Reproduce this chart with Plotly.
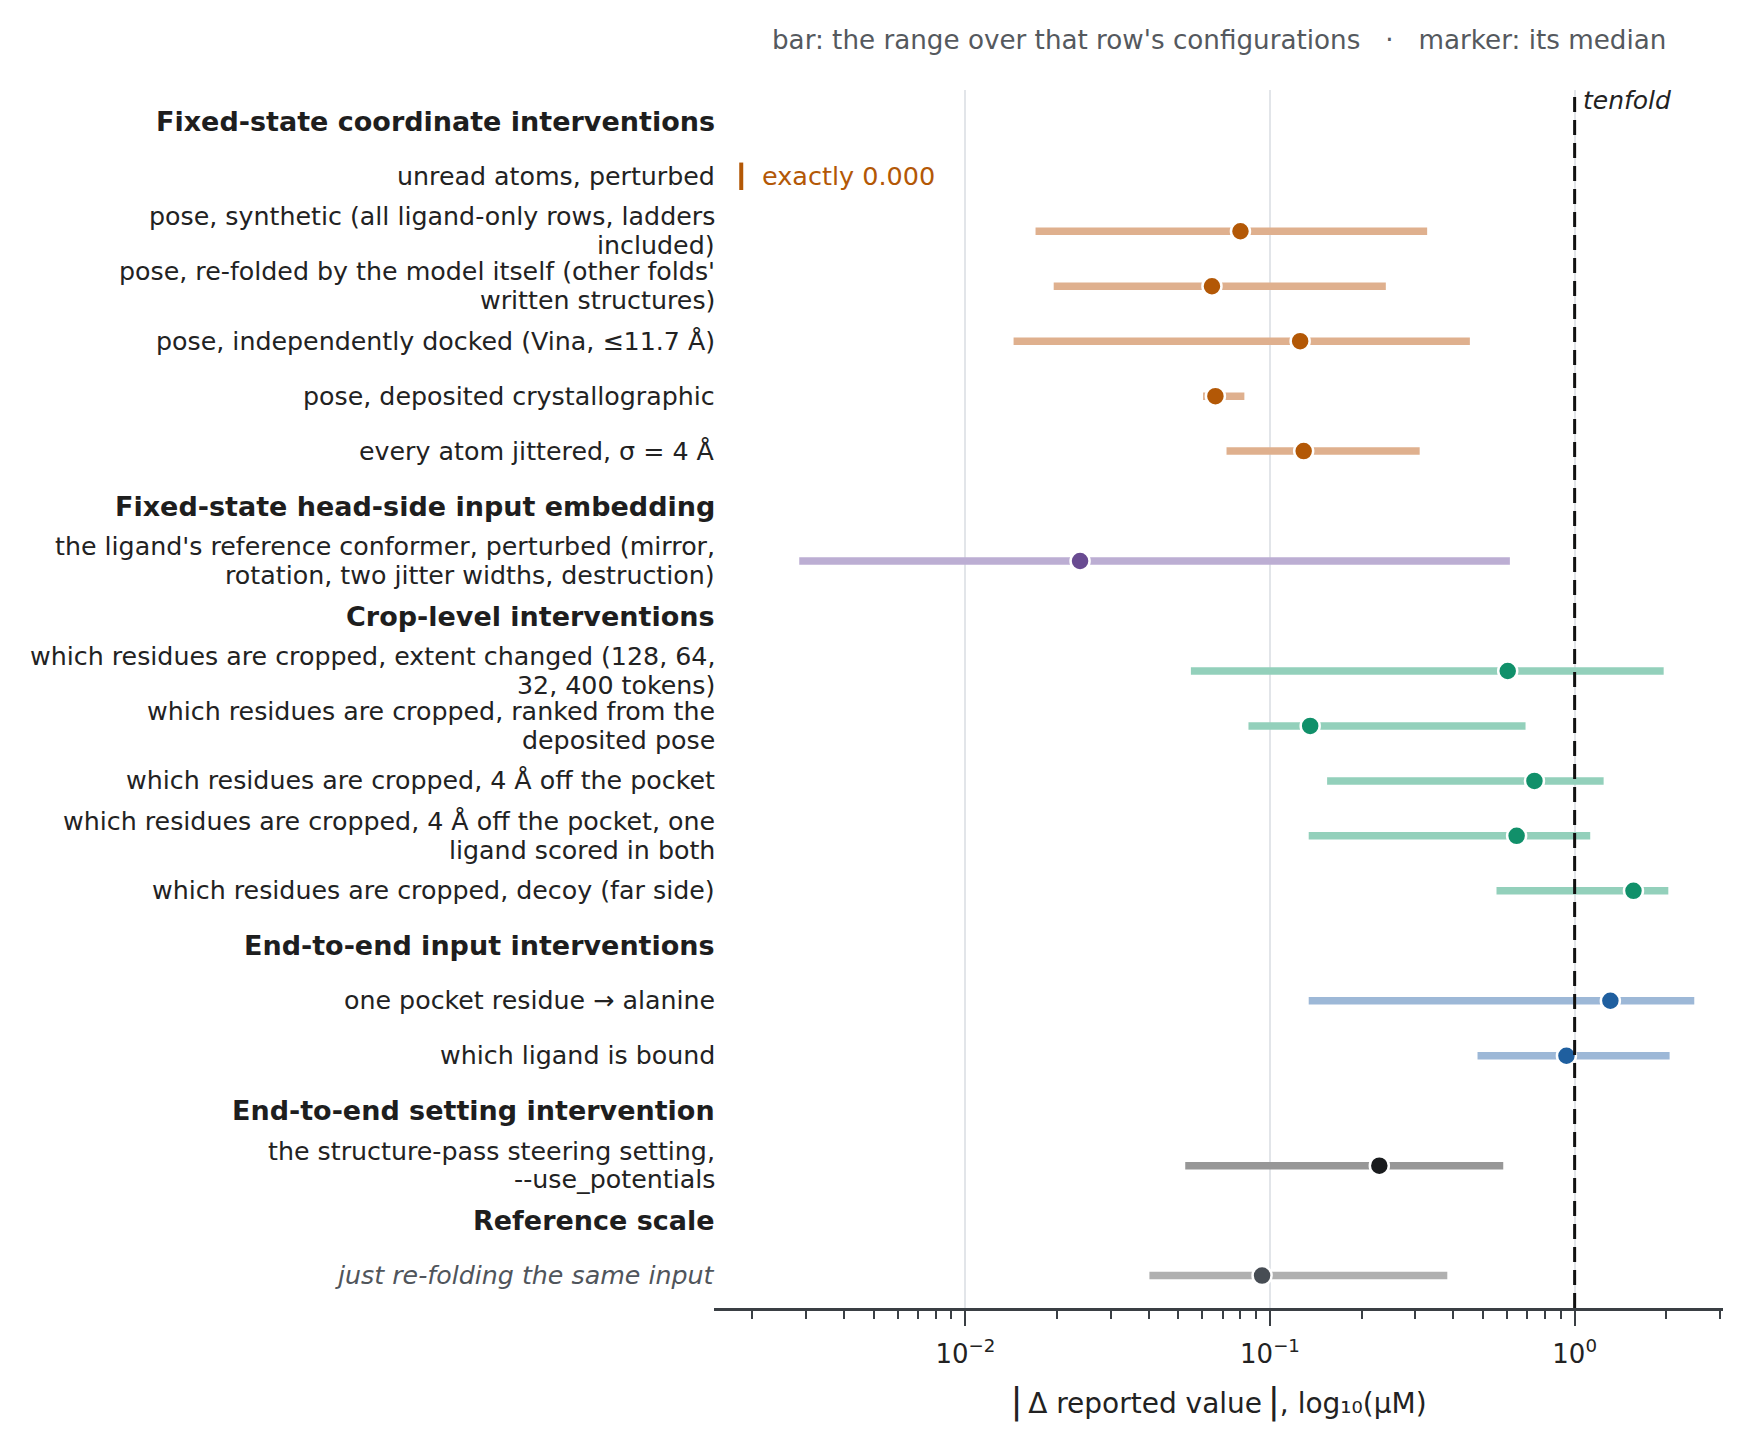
import plotly.graph_objects as go

# rows, top to bottom (headers included, they get no mark)
row_labels = [
    "Fixed-state coordinate interventions",
    "unread atoms, perturbed",
    "pose, synthetic (all ligand-only rows, ladders<br>included)",
    "pose, re-folded by the model itself (other folds'<br>written structures)",
    "pose, independently docked (Vina, ≤11.7 Å)",
    "pose, deposited crystallographic",
    "every atom jittered, σ = 4 Å",
    "Fixed-state head-side input embedding",
    "the ligand's reference conformer, perturbed (mirror,<br>rotation, two jitter widths, destruction)",
    "Crop-level interventions",
    "which residues are cropped, extent changed (128, 64,<br>32, 400 tokens)",
    "which residues are cropped, ranked from the<br>deposited pose",
    "which residues are cropped, 4 Å off the pocket",
    "which residues are cropped, 4 Å off the pocket, one<br>ligand scored in both",
    "which residues are cropped, decoy (far side)",
    "End-to-end input interventions",
    "one pocket residue → alanine",
    "which ligand is bound",
    "End-to-end setting intervention",
    "the structure-pass steering setting,<br>--use_potentials",
    "Reference scale",
    "just re-folding the same input",
]
row_group = ["header", "coord", "coord", "coord", "coord", "coord", "coord",
             "header", "embed",
             "header", "crop", "crop", "crop", "crop", "crop",
             "header", "e2e", "e2e",
             "header", "setting",
             "header", "ref"]
range_low = [None, None, 0.0170, 0.0195, 0.0144, 0.0603, 0.0720,
             None, 0.00285,
             None, 0.055, 0.085, 0.154, 0.134, 0.554,
             None, 0.134, 0.48,
             None, 0.0527,
             None, 0.0402]
range_med = [None, None, 0.080, 0.0645, 0.1256, 0.0662, 0.129,
             None, 0.0238,
             None, 0.603, 0.1355, 0.738, 0.645, 1.56,
             None, 1.31, 0.94,
             None, 0.2285,
             None, 0.0942]
range_high = [None, None, 0.328, 0.240, 0.453, 0.0824, 0.310,
              None, 0.613,
              None, 1.96, 0.690, 1.245, 1.125, 2.03,
              None, 2.47, 2.05,
              None, 0.583,
              None, 0.382]
exact_zero_row = 1
exact_zero_text = "exactly 0.000"

x_tickvals = [0.01, 0.1, 1]
x_ticktext = ["10<sup>−2</sup>", "10<sup>−1</sup>", "10<sup>0</sup>"]
x_minor_ticks = [0.002, 0.003, 0.004, 0.005, 0.006, 0.007, 0.008, 0.009,
                 0.02, 0.03, 0.04, 0.05, 0.06, 0.07, 0.08, 0.09,
                 0.2, 0.3, 0.4, 0.5, 0.6, 0.7, 0.8, 0.9, 2, 3]

marker_col = {"coord": "#b35806", "embed": "#694b91", "crop": "#11906a",
              "e2e": "#1f5f9f", "setting": "#1a1c1e", "ref": "#474d54"}
bar_col = {"coord": "#dfb08e", "embed": "#bcaed3", "crop": "#93d0bb",
           "e2e": "#9db8d7", "setting": "#979797", "ref": "#b0b0b0"}

FONT = "DejaVu Sans"
LINE_GAP = 0.52  # in rows, between the two lines of a wrapped label
fig = go.Figure()

for grp in ["coord", "embed", "crop", "e2e", "setting", "ref"]:
    xs, ys = [], []
    for i, g in enumerate(row_group):
        if g == grp and range_low[i] is not None:
            xs += [range_low[i], range_high[i], None]
            ys += [i, i, None]
    fig.add_trace(go.Scatter(x=xs, y=ys, mode="lines", hoverinfo="skip",
                             line=dict(color=bar_col[grp], width=7.5), showlegend=False))

for grp in ["coord", "embed", "crop", "e2e", "setting", "ref"]:
    idx = [i for i, g in enumerate(row_group) if g == grp and range_med[i] is not None]
    fig.add_trace(go.Scatter(x=[range_med[i] for i in idx], y=idx, mode="markers",
                             marker=dict(color=marker_col[grp], size=19,
                                         line=dict(color="white", width=2.5)),
                             showlegend=False))

# row labels as annotations so wrapped lines can sit tight like the original
for i, (lab, g) in enumerate(zip(row_labels, row_group)):
    lines = lab.split("<br>")
    n = len(lines)
    for k, line in enumerate(lines):
        if g == "header":
            txt, fnt = "<b>" + line + "</b>", dict(family=FONT, size=27, color="#1e1e1e")
        elif g == "ref":
            txt, fnt = "<i>" + line + "</i>", dict(family=FONT, size=25.3, color="#50555b")
        else:
            txt, fnt = line, dict(family=FONT, size=25.3, color="#222222")
        fig.add_annotation(xref="paper", yref="y", x=0, y=i + (k - (n - 1) / 2) * LINE_GAP,
                           text=txt, showarrow=False, xanchor="right", yanchor="middle",
                           xshift=3, font=fnt)

# the row that never moved
fig.add_shape(type="line", xref="paper", yref="y", x0=0.027, x1=0.027,
              y0=exact_zero_row - 0.25, y1=exact_zero_row + 0.25,
              line=dict(color=marker_col["coord"], width=4))
fig.add_annotation(xref="paper", yref="y", x=0.046, y=exact_zero_row, text=exact_zero_text,
                   showarrow=False, xanchor="left", yanchor="middle",
                   font=dict(family=FONT, size=25.5, color=marker_col["coord"]))

# tenfold line
fig.add_shape(type="line", xref="x", yref="paper", x0=1, x1=1, y0=0, y1=1,
              line=dict(color="#111111", width=3, dash="15px,8px"))
fig.add_annotation(xref="x", yref="paper", x=0, y=1, text="<i>tenfold</i>",
                   showarrow=False, xanchor="left", yanchor="middle", xshift=6, yshift=-10,
                   font=dict(family=FONT, size=25, color="#222222"))

fig.add_annotation(xref="paper", yref="paper", x=0.5, y=1, yshift=50,
                   text="bar: the range over that row's configurations\u00a0\u00a0\u00a0·\u00a0\u00a0\u00a0marker: its median",
                   showarrow=False, xanchor="center", yanchor="middle",
                   font=dict(family=FONT, size=26.2, color="#55595e"))

fig.update_xaxes(type="log", range=[-2.825, 0.487],
                 tickvals=x_tickvals, ticktext=x_ticktext,
                 ticks="outside", ticklen=15, tickwidth=1.8, tickcolor="#3a3f44",
                 ticklabelstandoff=6,
                 minor=dict(tickvals=x_minor_ticks, ticks="outside", ticklen=8,
                            tickwidth=1.5, tickcolor="#3a3f44", showgrid=False),
                 showline=True, linecolor="#3a3f44", linewidth=2.5,
                 showgrid=True, gridcolor="#e2e5e9", gridwidth=1.5,
                 zeroline=False, tickfont=dict(family=FONT, size=26, color="#222222"),
                 title=dict(text="<span style='font-size:36px'>|</span>\u2009Δ reported value\u2009"
                                 "<span style='font-size:36px'>|</span>, log₁₀(μM)",
                            standoff=26, font=dict(family=FONT, size=28, color="#222222")))
fig.update_yaxes(range=[21.59, -0.57], showticklabels=False,
                 showgrid=False, zeroline=False, showline=False, ticks="")

fig.update_layout(width=1750, height=1447, plot_bgcolor="white", paper_bgcolor="white",
                  margin=dict(l=706, r=35, t=82, b=147), font=dict(family=FONT),
                  showlegend=False)

fig.write_html("out.html")
